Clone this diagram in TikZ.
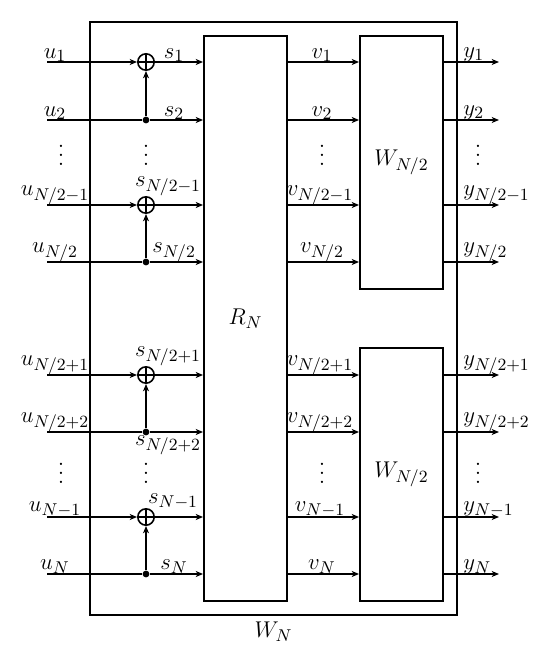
\documentclass[tikz,border=0pt]{standalone}
\usetikzlibrary{arrows.meta,fit}
\newcommand{\myvdots}{\vbox{\baselineskip4.8pt\lineskiplimit0pt\hbox{.}\hbox{.}\hbox{.}}}
\begin{document}
\begin{tikzpicture}[x=0.526pt,y=-0.526pt,
  every node/.style={font=\fontsize{12.4}{15}\selectfont},
  box/.style={draw,line width=1pt,inner sep=0pt},
  conn/.style={line width=0.75pt},
  arr/.style={conn,-{Stealth[length=3.8pt,width=3.1pt,inset=1pt]}},
  adder/.style={circle,draw,line width=0.85pt,minimum size=8.6pt,inner sep=0pt,
    path picture={\draw[line width=0.75pt] (path picture bounding box.north) -- (path picture bounding box.south)
      (path picture bounding box.west) -- (path picture bounding box.east);}},
  dot/.style={circle,fill,inner sep=0pt,minimum size=3.6pt},
  lab/.style={inner sep=0pt,anchor=south},
  labb/.style={inner sep=0pt,anchor=north},
  laby/.style={inner sep=0pt,anchor=south west}]
\useasboundingbox (0,0) rectangle (538,645);
% boxes
\node[box,fit={(90,22) (457,615)}] (WN) {};
\node[box,fit={(204,36) (287,601)}] (RN) {};
\node[box,fit={(360,36) (443,289)}] (W1) {};
\node[box,fit={(360,348) (443,601)}] (W2) {};
\node (RNl) at (RN.center) {$R_N$};
\node (W1l) at (W1.center) {$W_{N/2}$};
\node (W2l) at (W2.center) {$W_{N/2}$};
\node[anchor=north,inner sep=0pt] (WNl) at ([yshift=-3pt]WN.south) {$W_N$};
% row start coordinates
\coordinate (r1) at (47,62);
\coordinate (r2) at (47,120);
\coordinate (r3) at (47,205);
\coordinate (r4) at (47,262);
\coordinate (r5) at (47,375);
\coordinate (r6) at (47,432);
\coordinate (r7) at (47,517);
\coordinate (r8) at (47,574);
\coordinate (yend) at (499,0);
% adders and dots
\node[adder] (a1) at (146,62) {};
\node[dot] (d2) at (146,120) {};
\node[adder] (a3) at (146,205) {};
\node[dot] (d4) at (146,262) {};
\node[adder] (a5) at (146,375) {};
\node[dot] (d6) at (146,432) {};
\node[adder] (a7) at (146,517) {};
\node[dot] (d8) at (146,574) {};
% left part
\foreach \a/\d/\ra/\rd in {a1/d2/r1/r2,a3/d4/r3/r4,a5/d6/r5/r6,a7/d8/r7/r8}{
  \draw[arr] (\ra) -- (\a);
  \draw[arr] (\a) -- (\a -| RN.west);
  \draw[conn] (\rd) -- (\d);
  \draw[arr] (\d) -- (\d -| RN.west);
  \draw[arr] (\d) -- (\a);
}
% middle and right
\foreach \r in {r1,r2,r3,r4}{
  \draw[arr] (\r -| RN.east) -- (\r -| W1.west);
  \draw[arr] (\r -| W1.east) -- (\r -| yend);
}
\foreach \r in {r5,r6,r7,r8}{
  \draw[arr] (\r -| RN.east) -- (\r -| W2.west);
  \draw[arr] (\r -| W2.east) -- (\r -| yend);
}
% u labels
\node[lab] (lu1) at (55,62) {$u_1$};
\node[lab] (lu2) at (55,120) {$u_2$};
\node[lab] (lu3) at (55,205) {$u_{N/2-1}$};
\node[lab] (lu4) at (55,262) {$u_{N/2}$};
\node[lab] (lu5) at (55,375) {$u_{N/2+1}$};
\node[lab] (lu6) at (55,432) {$u_{N/2+2}$};
\node[lab] (lu7) at (55,517) {$u_{N-1}$};
\node[lab] (lu8) at (55,574) {$u_N$};
% s labels
\node[lab] (ls1) at (174,62) {$s_1$};
\node[lab] (ls2) at (174,120) {$s_2$};
\node[lab] (ls3) at (168,196) {$s_{N/2-1}$};
\node[lab] (ls4) at (174,262) {$s_{N/2}$};
\node[lab] (ls5) at (168,366) {$s_{N/2+1}$};
\node[labb] (ls6) at (168,435) {$s_{N/2+2}$};
\node[lab] (ls7) at (173,509) {$s_{N-1}$};
\node[lab] (ls8) at (174,574) {$s_N$};
% v labels
\node[lab] (lv1) at (322,62) {$v_1$};
\node[lab] (lv2) at (322,120) {$v_2$};
\node[lab] (lv3) at (320,205) {$v_{N/2-1}$};
\node[lab] (lv4) at (322,262) {$v_{N/2}$};
\node[lab] (lv5) at (320,375) {$v_{N/2+1}$};
\node[lab] (lv6) at (320,432) {$v_{N/2+2}$};
\node[lab] (lv7) at (320,517) {$v_{N-1}$};
\node[lab] (lv8) at (322,574) {$v_N$};
% y labels
\node[laby] (ly1) at (463,62) {$y_1$};
\node[laby] (ly2) at (463,120) {$y_2$};
\node[laby] (ly3) at (463,205) {$y_{N/2-1}$};
\node[laby] (ly4) at (463,262) {$y_{N/2}$};
\node[laby] (ly5) at (463,375) {$y_{N/2+1}$};
\node[laby] (ly6) at (463,432) {$y_{N/2+2}$};
\node[laby] (ly7) at (463,517) {$y_{N-1}$};
\node[laby] (ly8) at (463,574) {$y_N$};
% vertical dots
\foreach \x/\n in {61/u,146/s,322/v,478/y}{
  \node[inner sep=0pt] (vt\n) at (\x,155) {\myvdots};
  \node[inner sep=0pt] (vb\n) at (\x,473) {\myvdots};
}
\end{tikzpicture}
\end{document}
